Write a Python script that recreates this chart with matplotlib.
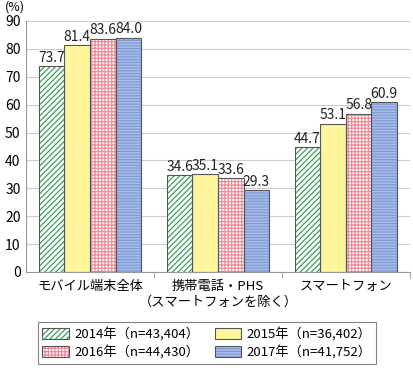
import numpy as np
import matplotlib
matplotlib.use('Agg')
import matplotlib.pyplot as plt

plt.rcParams['font.family'] = ['Noto Sans CJK JP', 'DejaVu Sans']
plt.rcParams['hatch.linewidth'] = 0.9

categories = ['モバイル端末全体', '携帯電話・PHS\n（スマートフォンを除く）', 'スマートフォン']
series_labels = ['2014年（n=43,404）', '2015年（n=36,402）', '2016年（n=44,430）', '2017年（n=41,752）']
v2014 = [73.7, 34.6, 44.7]
v2015 = [81.4, 35.1, 53.1]
v2016 = [83.6, 33.6, 56.8]
v2017 = [84.0, 29.3, 60.9]
yticks = [0, 10, 20, 30, 40, 50, 60, 70, 80, 90]

values = [v2014, v2015, v2016, v2017]
# face, hatch colour, hatch pattern
styles = [('white', '#3c9e5a', '//////'),
          ('#fff59a', '#fff59a', ''),
          ('white', '#f08a96', '+++++'),
          ('#aabde8', '#7f9bd6', '------')]

fig = plt.figure(figsize=(4.14, 3.68), dpi=100)
ax = fig.add_axes([0.063, 0.261, 0.927, 0.682])

x = np.arange(len(categories))
w = 0.2
handles = []
for i, vals in enumerate(values):
    pos = x + (i - 1.5) * w
    face, hcol, hat = styles[i]
    b1 = ax.bar(pos, vals, w, color=face, edgecolor=hcol, hatch=hat, linewidth=0, zorder=2)
    b2 = ax.bar(pos, vals, w, fill=False, edgecolor='#555555', linewidth=0.8, zorder=3)
    ax.bar_label(b2, fmt='%.1f', padding=1, fontsize=10, color='#222222')
    handles.append((b1.patches[0], b2.patches[0]))

ax.set_ylim(0, 90)
ax.set_xlim(-0.5, 2.5)
ax.set_yticks(yticks)
ax.set_xticks(x)
ax.set_xticklabels(categories, fontsize=9.5)
ax.set_xticks([0.5, 1.5, 2.5], minor=True)
ax.tick_params(axis='x', which='major', length=0, pad=6)
ax.tick_params(axis='x', which='minor', length=4, color='#999999')
ax.tick_params(axis='y', length=0, labelsize=10, pad=4)
ax.grid(axis='y', color='#cccccc', linewidth=0.8, zorder=0)
for s in ['top', 'right']:
    ax.spines[s].set_visible(False)
for s in ['left', 'bottom']:
    ax.spines[s].set_color('#999999')
fig.text(0.012, 0.982, '(%)', fontsize=9, ha='left', va='center')

order = [0, 2, 1, 3]
leg = fig.legend([handles[i] for i in order], [series_labels[i] for i in order],
                 ncol=2, loc='center', bbox_to_anchor=(0.5, 0.068),
                 fontsize=9.5, frameon=True, fancybox=False, edgecolor='#666666',
                 handlelength=2.0, handleheight=0.9, columnspacing=1.2,
                 labelspacing=0.3, borderpad=0.35, handletextpad=0.4)
leg.get_frame().set_linewidth(0.8)

fig.savefig('out.png', dpi=100)
